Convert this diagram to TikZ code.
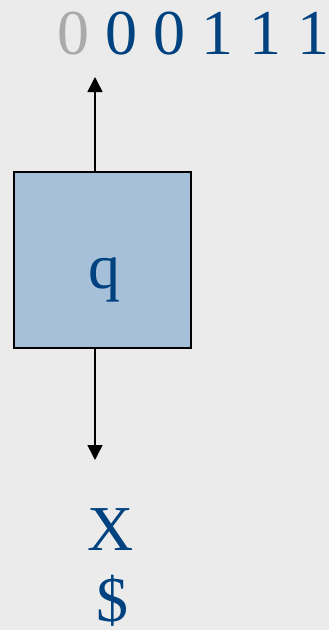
\documentclass[tikz,border=0pt]{standalone}
\usepackage{fontspec}
\setmainfont{Liberation Serif}
\usetikzlibrary{arrows.meta}
\definecolor{bg}{HTML}{EBEBEB}
\definecolor{boxfill}{HTML}{A6C0DA}
\definecolor{tblue}{HTML}{00427F}
\definecolor{tgray}{HTML}{AAAAAA}
\begin{document}
\begin{tikzpicture}[x=1pt,y=-1pt,
  lbl/.style={inner sep=0pt,anchor=base,text=tblue,font=\fontsize{64}{70}\selectfont},
  conn/.style={line width=1.5pt,-{Triangle[length=15pt,width=15pt]}}]
\fill[bg] (0,0) rectangle (329,630);
\useasboundingbox (0,0) rectangle (329,630);
\node[lbl,anchor=base west] (tape) at (57,54) {{\color{tgray}0} 0 0 1 1 1};
\node[draw=black,line width=1.5pt,fill=boxfill,minimum width=177pt,minimum height=176pt,inner sep=0pt] (q) at (102.5,260) {};
\node[lbl] (qlbl) at (104,288) {q};
\coordinate (top) at (95,77);
\coordinate (bot) at (95,460);
\coordinate (qt) at (95,172);
\coordinate (qb) at (95,348);
\draw[conn] (qt) -- (top);
\draw[conn] (qb) -- (bot);
\node[lbl] (x) at (111,550) {X};
\node[lbl] (dollar) at (112,621) {\$};
\end{tikzpicture}
\end{document}
